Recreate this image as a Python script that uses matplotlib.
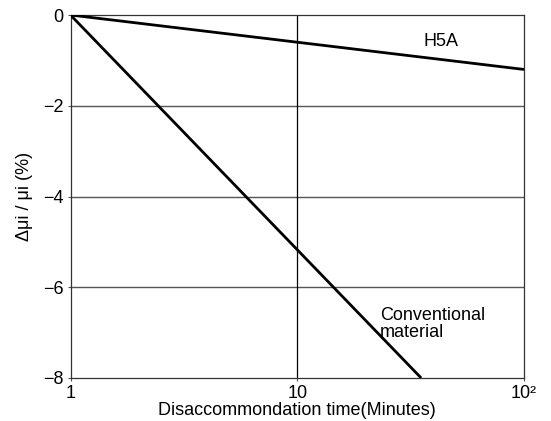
import matplotlib
matplotlib.use("Agg")
import matplotlib.pyplot as plt
from matplotlib.ticker import FixedLocator, NullLocator

plt.rcParams['font.family'] = ['Liberation Sans', 'DejaVu Sans']

# Data
h5a_time = [1, 100]
h5a_change = [0, -1.2]
conv_time = [1, 35.2]
conv_change = [0, -8]
x_ticks = [1, 10, 100]
x_tick_labels = ['1', '10', '10²']
y_ticks = [0, -2, -4, -6, -8]
y_tick_labels = ['0', '\u22122', '\u22124', '\u22126', '\u22128']

fig = plt.figure(figsize=(5.51, 4.21), dpi=100)
ax = fig.add_axes([70.5/551, (421-378)/421, (524-70.5)/551, (378-15)/421])

ax.set_xscale('log')
ax.set_xlim(1, 100)
ax.set_ylim(-8, 0)

for y in [-2, -4, -6]:
    ax.axhline(y, color='#555555', lw=1.0, zorder=1)
ax.axvline(10, color='black', lw=0.9, zorder=1)

ax.plot(h5a_time, h5a_change, color='black', lw=2.0, solid_capstyle='butt', zorder=3)
ax.plot(conv_time, conv_change, color='black', lw=2.0, solid_capstyle='butt', zorder=3)

ax.xaxis.set_major_locator(FixedLocator(x_ticks))
ax.xaxis.set_minor_locator(NullLocator())
ax.set_xticklabels(x_tick_labels)
ax.set_yticks(y_ticks)
ax.set_yticklabels(y_tick_labels)
ax.tick_params(axis='both', length=2, width=0.8, labelsize=13, pad=3, color='#555555')

for s in ax.spines.values():
    s.set_linewidth(0.9)
    s.set_color('#333333')

ax.text(43, -0.58, 'H5A', fontsize=13, ha='center', va='center')
ax.text(23.2, -6.8, 'Conventional\nmaterial', fontsize=13, ha='left', va='center', linespacing=1.0)

ax.set_xlabel('Disaccommondation time(Minutes)', fontsize=13, labelpad=0)
ax.set_ylabel('\u0394\u03bci / \u03bci (%)', fontsize=13, labelpad=7)

fig.savefig('out.png', dpi=100)
